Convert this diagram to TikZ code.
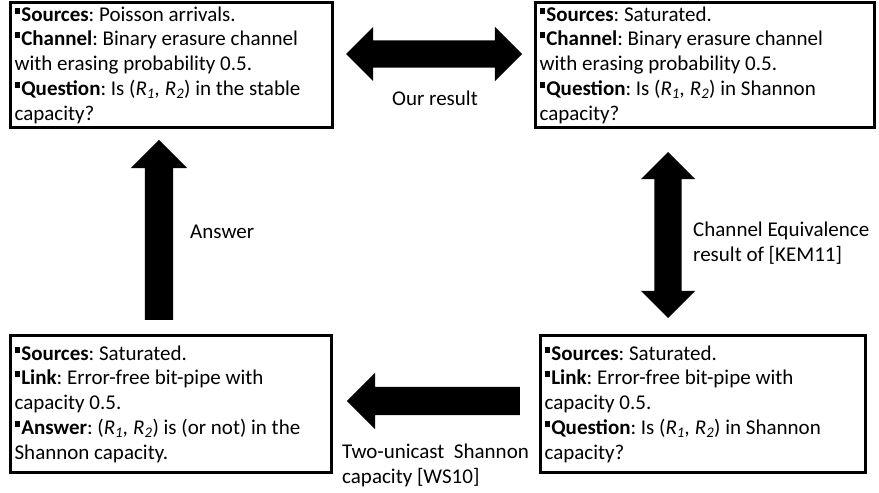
\documentclass[tikz,border=0pt]{standalone}
\usepackage{fontspec}
\setmainfont{Carlito}
\usetikzlibrary{shapes.arrows}
\frenchspacing

% small square bullet in front of each item
\newcommand\sqb{\rule[0.36em]{0.28em}{0.28em}\hspace{0.04em}}
\newcommand\rpair{(\textit{R\textsubscript{1}, R\textsubscript{2}})}

\tikzset{
  infobox/.style={draw, line width=2.6pt, anchor=north west, align=flush left,
    inner xsep=4pt, inner ysep=2pt,
    font=\fontsize{21}{24.8}\selectfont},
  lbl/.style={align=flush left, inner sep=0pt, font=\fontsize{21}{24.8}\selectfont},
  dblarr/.style={double arrow, fill=black, inner xsep=0pt, inner ysep=13.5pt,
    minimum width=54pt, double arrow head extend=13.5pt, double arrow tip angle=90},
  sglarr/.style={single arrow, fill=black, inner xsep=0pt, inner ysep=14pt,
    minimum width=56pt, single arrow head extend=14pt, single arrow tip angle=90},
}

\begin{document}
\begin{tikzpicture}[x=1pt, y=-1pt]
  \useasboundingbox[fill=white] (0,0) rectangle (879,493);

  % the four boxes
  \node[infobox, text width=314pt, minimum height=125pt] (stable) at (9.3,1.3)
    {\sqb\textbf{Sources}: Poisson arrivals.\\
     \sqb\textbf{Channel}: Binary erasure channel\\
     with erasing probability 0.5.\\
     \sqb\textbf{Question}: Is \rpair{} in the stable\\
     capacity?};
  \node[infobox, text width=331pt, minimum height=125pt] (shannon) at (534.3,1.3)
    {\sqb\textbf{Sources}: Saturated.\\
     \sqb\textbf{Channel}: Binary erasure channel\\
     with erasing probability 0.5.\\
     \sqb\textbf{Question}: Is \rpair{} in Shannon\\
     capacity?};
  \node[infobox, text width=313pt, minimum height=137pt] (answer) at (9.3,334.3)
    {\sqb\textbf{Sources}: Saturated.\\
     \sqb\textbf{Link}: Error-free bit-pipe with\\
     capacity 0.5.\\
     \sqb\textbf{Answer}: \rpair{} is (or not) in the\\
     Shannon capacity.};
  \node[infobox, text width=317pt, minimum height=137pt] (bitpipe) at (539.3,334.3)
    {\sqb\textbf{Sources}: Saturated.\\
     \sqb\textbf{Link}: Error-free bit-pipe with\\
     capacity 0.5.\\
     \sqb\textbf{Question}: Is \rpair{} in Shannon\\
     capacity?};

  % block arrows between the boxes
  \node[dblarr, minimum height=176pt] (ourres) at (434,54) {};
  \node[dblarr, minimum height=166pt, rotate=90] (equiv) at (668,235) {};
  \node[sglarr, minimum height=180pt, rotate=90, anchor=tail] (ans) at (159,320) {};
  \node[sglarr, minimum height=173pt, rotate=180, anchor=tail] (twouni) at (520,401) {};

  % arrow labels
  \node[lbl] (ourreslbl) at (435,98) {Our result};
  \node[lbl, anchor=west] (equivlbl) at (693,243)
    {Channel Equivalence\\result of [KEM11]};
  \node[lbl, anchor=west] (anslbl) at (190,232) {Answer};
  \node[lbl, anchor=north west] (twounilbl) at (342,444)
    {Two-unicast\ \ Shannon\\capacity [WS10]};
\end{tikzpicture}
\end{document}
